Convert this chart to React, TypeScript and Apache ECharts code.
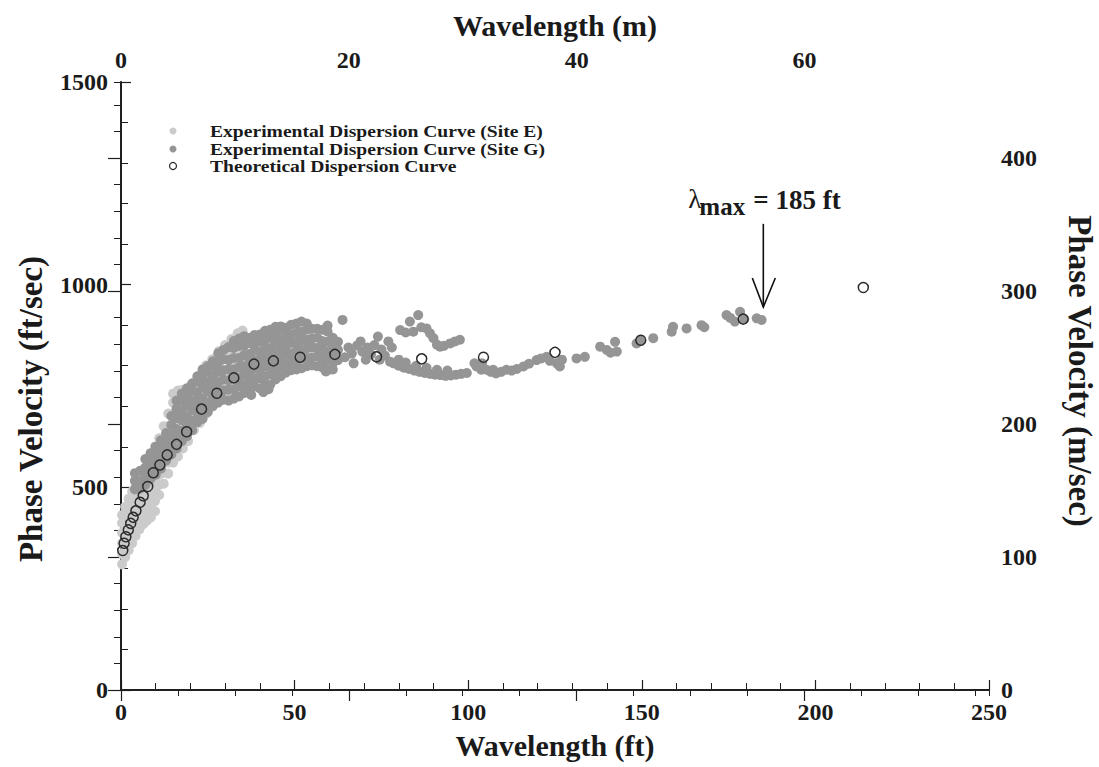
import React, { useEffect, useRef } from "react";
import * as echarts from "echarts";

const FONT = '"Liberation Serif", "Times New Roman", serif';
const FT_TO_M = 0.3048;

// Axis ranges / ticks
const X_FT_MIN = 0;
const X_FT_MAX = 250;
const X_FT_INTERVAL = 50;
const Y_FPS_MIN = 0;
const Y_FPS_MAX = 1500;
const Y_FPS_INTERVAL = 500;
const X_M_MAJOR = 20;
const X_M_MINOR = 5;
const Y_MPS_MAJOR = 100;
const Y_MPS_MINOR = 20;

// Experimental dispersion curve, Site E (light gray): [wavelength ft, velocity columns ft/s]
const siteEColumns: [number, number[]][] = [
  [0.3, [310, 336, 362, 388, 412, 432]],
  [1.2, [328, 352, 380, 404, 430, 452]],
  [2.2, [345, 372, 396, 421, 446, 472]],
  [3.2, [362, 386, 411, 437, 462, 490]],
  [4.2, [380, 404, 431, 456, 482, 506]],
  [5.3, [396, 421, 444, 471, 497, 524]],
  [6.4, [409, 436, 462, 486, 511, 540]],
  [7.5, [418, 444, 471, 497, 522, 549, 568]],
  [8.6, [426, 451, 479, 506, 532, 561, 584]],
  [9.8, [441, 466, 492, 517, 546, 574, 601]],
  [11.0, [481, 506, 531, 561, 589, 621]],
  [12.3, [509, 536, 562, 591, 622, 651]],
  [13.6, [534, 561, 589, 621, 651, 682]],
  [15.0, [561, 590, 622, 651, 681, 709, 731]],
  [16.4, [576, 606, 634, 664, 696, 724, 739]],
  [17.8, [596, 626, 656, 686, 714, 741]],
  [19.3, [614, 646, 676, 704, 734, 746]],
  [21.0, [641, 671, 699, 731, 759]],
  [22.7, [659, 691, 721, 749, 776]],
  [24.5, [681, 709, 741, 771, 801]],
  [26.3, [699, 731, 761, 789, 816]],
  [28.2, [716, 744, 776, 806, 836]],
  [30.0, [731, 761, 789, 821, 851]],
  [31.8, [746, 776, 806, 834, 866]],
  [33.6, [761, 791, 821, 851, 880]],
  [35.0, [776, 806, 834, 864, 887]],
];

// Experimental dispersion curve, Site G (darker gray), dense part: [wavelength ft, velocity columns]
const siteGColumns: [number, number[]][] = [
  [4.0, [495, 516, 535]],
  [5.5, [497, 515, 541]],
  [7.0, [506, 526, 549, 570]],
  [8.5, [521, 541, 561, 584]],
  [10.0, [531, 554, 576, 600]],
  [11.5, [546, 569, 594, 616]],
  [13.0, [566, 589, 611, 634]],
  [14.5, [581, 604, 629, 654, 676]],
  [16.0, [596, 621, 644, 671, 694, 714]],
  [17.5, [614, 639, 666, 689, 714, 731]],
  [19.0, [626, 651, 674, 701, 726, 744]],
  [20.5, [641, 664, 691, 714, 739, 756]],
  [22.0, [661, 684, 711, 734, 761, 774]],
  [23.5, [669, 696, 719, 746, 769, 791]],
  [25.0, [686, 709, 736, 759, 786, 799]],
  [26.5, [701, 724, 751, 774, 801, 811]],
  [28.0, [709, 736, 759, 786, 809, 831]],
  [29.5, [716, 739, 766, 789, 816, 839]],
  [31.0, [714, 741, 764, 791, 814, 846]],
  [32.5, [719, 742, 769, 791, 819, 844, 861]],
  [34.0, [724, 749, 771, 797, 819, 849, 867]],
  [35.5, [733, 754, 779, 799, 826, 849, 873]],
  [37.0, [739, 763, 784, 809, 829, 856, 869]],
  [38.5, [749, 769, 793, 814, 839, 859, 876]],
  [40.0, [744, 769, 789, 813, 834, 859, 877]],
  [41.5, [753, 774, 799, 819, 843, 864, 886]],
  [43.0, [754, 779, 799, 823, 844, 869, 889]],
  [44.5, [766, 787, 811, 831, 856, 877, 896]],
  [46.0, [774, 799, 819, 843, 864, 889, 897]],
  [47.5, [783, 804, 829, 849, 873, 894]],
  [49.0, [789, 811, 831, 856, 877, 901]],
  [50.5, [791, 811, 836, 857, 881, 904]],
  [52.0, [794, 819, 839, 863, 884, 909]],
  [53.5, [799, 819, 843, 864, 889, 904]],
  [55.0, [801, 821, 846, 867, 891]],
  [56.5, [799, 823, 844, 869, 891]],
  [58.0, [796, 817, 841, 861, 889]],
  [59.5, [789, 813, 834, 859, 884, 899]],
  [61.0, [806, 827, 851, 869]],
  [62.5, [814, 839, 859]],
];

// Site G, sparse part and outliers: [wavelength ft, velocity ft/s]
const siteGPoints: [number, number][] = [
  [37.5, 728], [41, 735], [42.5, 742], [63.8, 913], [59, 786], [61, 791],
  [64.5, 821], [65.5, 845], [66.5, 830], [67, 806], [68, 850], [69, 860], [69.5, 835],
  [70.5, 815], [71, 845], [72, 828], [73, 851], [74, 872], [74.5, 815], [75, 840],
  [76, 825], [77, 860], [78, 845], [77.5, 810],
  [78.5, 806], [80, 800], [81.5, 795], [83, 792], [84.5, 788], [86, 785], [87.5, 782],
  [89, 780], [90.5, 778], [92, 777], [93.5, 775], [95, 776], [96.5, 778], [98, 780],
  [99.6, 782], [80, 815], [82, 808], [85, 800], [88, 795], [91, 790], [94, 788],
  [80.4, 888], [82, 882], [83.2, 909], [84.2, 884], [85.6, 925], [86.5, 895], [88, 892],
  [89, 880], [90, 868], [91, 852], [91.9, 847], [93, 849], [94.8, 855], [96.2, 860], [97.6, 864],
  [101.8, 806], [102.4, 798], [103.8, 790], [105.3, 790], [106.5, 785], [108, 781],
  [107.2, 790], [109.5, 785], [111, 790], [112.5, 788], [114, 792], [115.9, 798],
  [117.5, 805], [119.7, 814], [121, 818], [122.6, 822], [123.5, 812], [125.5, 806],
  [126.4, 798], [127, 815], [104, 806],
  [131.2, 818], [133.6, 822], [138, 847], [139.9, 839], [141, 832], [142.3, 859],
  [142.8, 835], [148.5, 855], [149.5, 862], [153.3, 868], [158.6, 884], [159, 896],
  [162.9, 892], [167.2, 900], [168, 895], [174.4, 925], [175.5, 918], [176.8, 909],
  [178.3, 933], [179.5, 915], [183.1, 917], [184.5, 913],
];

// Theoretical dispersion curve: [wavelength ft, velocity ft/s]
const theoretical: [number, number][] = [
  [0.5, 344], [0.9, 362], [1.4, 378], [2.1, 395], [2.8, 411], [3.5, 426], [4.3, 442],
  [5.5, 463], [6.4, 479], [7.7, 502], [9.3, 536], [11.2, 555], [13.3, 580], [16.0, 606],
  [18.9, 637], [23.2, 693], [27.6, 732], [32.5, 770], [38.3, 804], [43.9, 812],
  [51.6, 821], [61.6, 828], [73.6, 822], [86.6, 817], [104.4, 821], [125.0, 833],
  [149.7, 863], [179.2, 915], [213.8, 993],
];

// Annotation
const lambdaMax = 185;
const arrowTopV = 1150;
const arrowTipV = 945;

const seriesNames = [
  "Experimental Dispersion Curve (Site E)",
  "Experimental Dispersion Curve (Site G)",
  "Theoretical Dispersion Curve",
];

const flatten = (cols: [number, number[]][]) => {
  const out: [number, number][] = [];
  cols.forEach(([x, vs]) => vs.forEach((v) => out.push([x, v])));
  return out;
};

const AXIS_COLOR = "#1e1e1e";
const labelStyle = {
  fontFamily: FONT,
  fontWeight: "bold" as const,
  fontSize: 24,
  color: "#1a1a1a",
  formatter: (v: number) => String(Math.round(v)),
};

export default function App() {
  const ref = useRef<HTMLDivElement>(null);
  useEffect(() => {
    if (!ref.current) return;
    const chart = echarts.init(ref.current, null, { renderer: "svg" });
    const yMpsMax = Y_FPS_MAX * FT_TO_M;
    const xMMax = X_FT_MAX * FT_TO_M;
    const axisLine = { show: true, lineStyle: { color: AXIS_COLOR, width: 1.5 } };
    const option: any = {
      animation: false,
      backgroundColor: "#ffffff",
      grid: { left: 121, right: 110, top: 82, bottom: 77, containLabel: false, outerBoundsMode: "none" },
      xAxis: [
        {
          type: "value", position: "bottom", min: X_FT_MIN, max: X_FT_MAX, interval: X_FT_INTERVAL,
          axisLine, splitLine: { show: false },
          axisTick: { show: true, inside: true, length: 10, lineStyle: { color: AXIS_COLOR, width: 1.2 } },
          minorTick: { show: true, splitNumber: 5, length: 7, lineStyle: { color: AXIS_COLOR, width: 1 } },
          axisLabel: { ...labelStyle, margin: 10, hideOverlap: false },
        },
        {
          type: "value", position: "top", min: 0, max: xMMax, interval: X_M_MINOR,
          axisLine, splitLine: { show: false },
          axisTick: { show: true, inside: true, length: 6, lineStyle: { color: AXIS_COLOR, width: 1 } },
          axisLabel: { show: false },
        },
        {
          type: "value", position: "top", min: 0, max: xMMax, interval: X_M_MAJOR,
          axisLine, splitLine: { show: false },
          axisTick: { show: true, inside: true, length: 11, lineStyle: { color: AXIS_COLOR, width: 1.2 } },
          axisLabel: { ...labelStyle, margin: 10, showMaxLabel: false, hideOverlap: false },
        },
      ],
      yAxis: [
        {
          type: "value", position: "left", min: Y_FPS_MIN, max: Y_FPS_MAX, interval: Y_FPS_INTERVAL,
          axisLine, splitLine: { show: false },
          axisTick: { show: true, inside: true, length: 10, lineStyle: { color: AXIS_COLOR, width: 1.2 } },
          minorTick: { show: true, splitNumber: 5, length: 7, lineStyle: { color: AXIS_COLOR, width: 1 } },
          axisLabel: { ...labelStyle, margin: 13, hideOverlap: false },
        },
        {
          type: "value", position: "right", min: 0, max: yMpsMax, interval: Y_MPS_MINOR,
          axisLine, splitLine: { show: false },
          axisTick: { show: true, inside: true, length: 7, lineStyle: { color: AXIS_COLOR, width: 1 } },
          axisLabel: { show: false },
        },
        {
          type: "value", position: "right", min: 0, max: yMpsMax, interval: Y_MPS_MAJOR,
          axisLine, splitLine: { show: false },
          axisTick: { show: true, inside: true, length: 13, lineStyle: { color: AXIS_COLOR, width: 1.2 } },
          axisLabel: { ...labelStyle, margin: 12, showMaxLabel: false, hideOverlap: false },
        },
      ],
      series: [
        {
          name: seriesNames[0], type: "scatter", xAxisIndex: 0, yAxisIndex: 0,
          symbol: "circle", symbolSize: 10, data: flatten(siteEColumns),
          itemStyle: { color: "#cbcbcb", opacity: 1 },
        },
        {
          name: seriesNames[1], type: "scatter", xAxisIndex: 0, yAxisIndex: 0,
          symbol: "circle", symbolSize: 10, data: [...flatten(siteGColumns), ...siteGPoints],
          itemStyle: { color: "#959595", opacity: 1 },
        },
        {
          name: seriesNames[2], type: "scatter", xAxisIndex: 0, yAxisIndex: 0,
          symbol: "circle", symbolSize: 10, data: theoretical,
          itemStyle: { color: "rgba(255,255,255,0)", borderColor: "#2b2b2b", borderWidth: 1.5, opacity: 1 },
        },
      ],
    };
    chart.setOption(option);

    const top = chart.convertToPixel({ xAxisIndex: 0, yAxisIndex: 0 }, [lambdaMax, arrowTopV]) as number[];
    const tip = chart.convertToPixel({ xAxisIndex: 0, yAxisIndex: 0 }, [lambdaMax, arrowTipV]) as number[];

    const titleStyle = { fontFamily: FONT, fontWeight: "bold", fontSize: 30, fill: "#1a1a1a" };
    const vTitleStyle = { ...titleStyle, fontSize: 33 };
    const legendText = { fontFamily: FONT, fontWeight: "bold", fontSize: 17.5, lineHeight: 16, fill: "#1a1a1a" };
    const legendColors = [
      { fill: "#cbcbcb", stroke: "none", lineWidth: 0 },
      { fill: "#959595", stroke: "none", lineWidth: 0 },
      { fill: "#ffffff", stroke: "#2b2b2b", lineWidth: 1.2 },
    ];
    const legendY = [131, 149, 166];
    const graphic: any[] = [
      { type: "text", x: 555, y: 25, style: { ...titleStyle, text: "Wavelength (m)", textAlign: "center", textVerticalAlign: "middle" } },
      { type: "text", x: 555, y: 745, style: { ...titleStyle, text: "Wavelength (ft)", textAlign: "center", textVerticalAlign: "middle" } },
      { type: "text", x: 31, y: 409, rotation: Math.PI / 2, style: { ...vTitleStyle, text: "Phase Velocity (ft/sec)", textAlign: "center", textVerticalAlign: "middle" } },
      { type: "text", x: 1080, y: 371, rotation: -Math.PI / 2, style: { ...vTitleStyle, text: "Phase Velocity (m/sec)", textAlign: "center", textVerticalAlign: "middle" } },
    ];
    seriesNames.forEach((name, i) => {
      graphic.push({ type: "circle", shape: { cx: 173, cy: legendY[i], r: 3.5 }, style: legendColors[i] });
      graphic.push({ type: "text", x: 210, y: legendY[i], scaleX: 1.12, style: { ...legendText, text: name, textAlign: "left", textVerticalAlign: "middle" } });
    });
    // arrow
    const ax = tip[0];
    graphic.push({ type: "line", shape: { x1: ax, y1: top[1], x2: ax, y2: tip[1] }, style: { stroke: "#111", lineWidth: 1.6 } });
    graphic.push({ type: "polyline", shape: { points: [[ax - 11, tip[1] - 29], [ax, tip[1]], [ax + 12, tip[1] - 29]] }, style: { stroke: "#111", lineWidth: 1.6, fill: "none" } });
    const ann = { fontFamily: FONT, fontWeight: "bold", fill: "#1a1a1a" };
    graphic.push({ type: "text", x: ax - 75, y: top[1] - 25, style: { ...ann, fontSize: 27, fontWeight: "normal", text: "λ", textAlign: "left", textVerticalAlign: "middle" } });
    graphic.push({ type: "text", x: ax - 64, y: top[1] - 17, style: { ...ann, fontSize: 25, text: "max", textAlign: "left", textVerticalAlign: "middle" } });
    graphic.push({ type: "text", x: ax - 10, y: top[1] - 24, style: { ...ann, fontSize: 27, text: "= 185 ft", textAlign: "left", textVerticalAlign: "middle" } });

    chart.setOption({ graphic: { elements: graphic } });
    return () => chart.dispose();
  }, []);
  return <div ref={ref} style={{ width: 1099, height: 767, position: "absolute", left: 0, top: 0 }} />;
}
